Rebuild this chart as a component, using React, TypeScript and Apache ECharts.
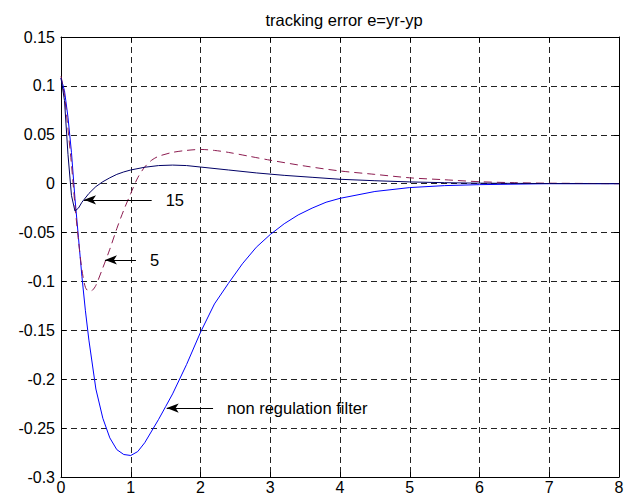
import React, { useEffect, useRef } from "react";
import * as echarts from "echarts";

const titleText = "tracking error e=yr-yp";

const tNoFilter = [0, 0.05, 0.1, 0.15, 0.2, 0.25, 0.3, 0.35, 0.4, 0.5, 0.6, 0.7, 0.8, 0.9, 1.0, 1.1, 1.2, 1.3, 1.4, 1.5, 1.6, 1.8, 2.0, 2.2, 2.4, 2.6, 2.8, 3.0, 3.2, 3.4, 3.6, 3.8, 4.0, 4.5, 5.0, 5.5, 6.0, 7.0, 8.0];
const eNoFilter = [0.108, 0.095, 0.068, 0.032, -0.015, -0.055, -0.095, -0.13, -0.16, -0.21, -0.24, -0.26, -0.272, -0.277, -0.278, -0.274, -0.265, -0.253, -0.241, -0.228, -0.215, -0.185, -0.152, -0.123, -0.102, -0.082, -0.065, -0.052, -0.041, -0.032, -0.025, -0.019, -0.015, -0.008, -0.004, -0.002, -0.001, 0, 0];

const t15 = [0, 0.05, 0.1, 0.15, 0.2, 0.25, 0.3, 0.4, 0.5, 0.6, 0.7, 0.8, 0.9, 1.0, 1.2, 1.4, 1.6, 1.8, 2.0, 2.4, 2.8, 3.2, 3.6, 4.0, 4.5, 5.0, 5.5, 6.0, 7.0, 8.0];
const e15 = [0.108, 0.085, 0.03, -0.012, -0.028, -0.025, -0.019, -0.01, -0.003, 0.002, 0.006, 0.0095, 0.012, 0.014, 0.0168, 0.0185, 0.019, 0.0185, 0.017, 0.014, 0.011, 0.0085, 0.0065, 0.0045, 0.003, 0.0018, 0.001, 0.0005, 0.0001, 0];

const t5 = [0, 0.05, 0.1, 0.15, 0.2, 0.25, 0.3, 0.35, 0.4, 0.45, 0.5, 0.6, 0.7, 0.8, 0.9, 1.0, 1.1, 1.2, 1.3, 1.4, 1.6, 1.8, 2.0, 2.2, 2.4, 2.7, 3.0, 3.5, 4.0, 4.5, 5.0, 5.5, 6.0, 6.5, 7.0, 8.0];
const e5 = [0.11, 0.09, 0.056, 0.02, -0.022, -0.058, -0.088, -0.106, -0.11, -0.109, -0.104, -0.086, -0.067, -0.046, -0.027, -0.01, 0.006, 0.017, 0.024, 0.028, 0.032, 0.034, 0.035, 0.034, 0.032, 0.028, 0.024, 0.018, 0.013, 0.0095, 0.006, 0.004, 0.002, 0.001, 0.0005, 0];

// annotations: label, arrow tail (t, e), arrow head (t, e)
const annLabels = ["15", "5", "non regulation filter"];
const annTail = [[1.3, -0.0165], [1.075, -0.078], [2.18, -0.2295]];
const annHead = [[0.33, -0.0165], [0.63, -0.078], [1.515, -0.2295]];

const xMin = 0, xMax = 8, xStep = 1;
const yMin = -0.3, yMax = 0.15, yStep = 0.05;

const FONT = "'Liberation Sans', Arial, sans-serif";

export default function App() {
  const ref = useRef<HTMLDivElement>(null);
  useEffect(() => {
    const chart = echarts.init(ref.current!, null, { renderer: "svg" });
    const zip = (a: number[], b: number[]) => a.map((v, i) => [v, b[i]]);
    const fmtY = (v: number) => {
      const r = Math.round(v * 100) / 100;
      return r === 0 ? "0" : String(r);
    };
    const axisCommon = {
      axisLine: { show: true, onZero: false, lineStyle: { color: "#000", width: 1 } },
      axisTick: { show: true, inside: true, length: 5, lineStyle: { color: "#000" } },
    };
    const gridLine = { show: true, lineStyle: { color: "#222", type: [6, 4], width: 1 } };
    chart.setOption({
      animation: false,
      backgroundColor: "#fff",
      title: {
        text: titleText,
        left: 339,
        textAlign: "center",
        top: 6,
        textStyle: { fontFamily: FONT, fontSize: 16.5, fontWeight: "normal", color: "#000" },
      },
      grid: { left: 61, right: 11, top: 37, bottom: 22, show: false },
      xAxis: [
        {
          type: "value", min: xMin, max: xMax, interval: xStep, position: "bottom",
          ...axisCommon,
          axisLabel: { color: "#000", fontFamily: FONT, fontSize: 16, margin: 2, lineHeight: 16 },
          splitLine: gridLine,
        },
        {
          type: "value", min: xMin, max: xMax, interval: xStep, position: "top",
          ...axisCommon,
          axisLabel: { show: false },
          splitLine: { show: false },
        },
      ],
      yAxis: [
        {
          type: "value", min: yMin, max: yMax, interval: yStep, position: "left",
          ...axisCommon,
          axisLabel: { color: "#000", fontFamily: FONT, fontSize: 16, margin: 6, formatter: fmtY },
          splitLine: gridLine,
        },
        {
          type: "value", min: yMin, max: yMax, interval: yStep, position: "right",
          ...axisCommon,
          axisLabel: { show: false },
          splitLine: { show: false },
        },
      ],
      series: [
        {
          name: "non regulation filter",
          type: "line",
          data: zip(tNoFilter, eNoFilter),
          showSymbol: false,
          symbol: "none",
          lineStyle: { color: "#0000ff", width: 1 },
          silent: true,
        },
        {
          name: "5",
          type: "line",
          data: zip(t5, e5),
          showSymbol: false,
          symbol: "none",
          smooth: 0.3,
          lineStyle: { color: "#8c1c50", width: 1, type: [8, 5] },
          silent: true,
        },
        {
          name: "15",
          type: "line",
          data: zip(t15, e15),
          showSymbol: false,
          symbol: "none",
          lineStyle: { color: "#000066", width: 1 },
          silent: true,
          markLine: {
            silent: true,
            symbol: ["none", "arrow"],
            symbolSize: [7, 12],
            lineStyle: { color: "#000", width: 1, type: "solid" },
            label: {
              show: true,
              position: "start",
              distance: 14,
              color: "#000",
              fontFamily: FONT,
              fontSize: 16.5,
              formatter: (p: any) => p.name,
            },
            data: annLabels.map((name, i) => [
              { name, coord: annTail[i] },
              { coord: annHead[i] },
            ]),
          },
        },
      ],
    });
    return () => chart.dispose();
  }, []);
  return (
    <div
      ref={ref}
      style={{ position: "absolute", left: 0, top: 0, width: 630, height: 499 }}
    />
  );
}
